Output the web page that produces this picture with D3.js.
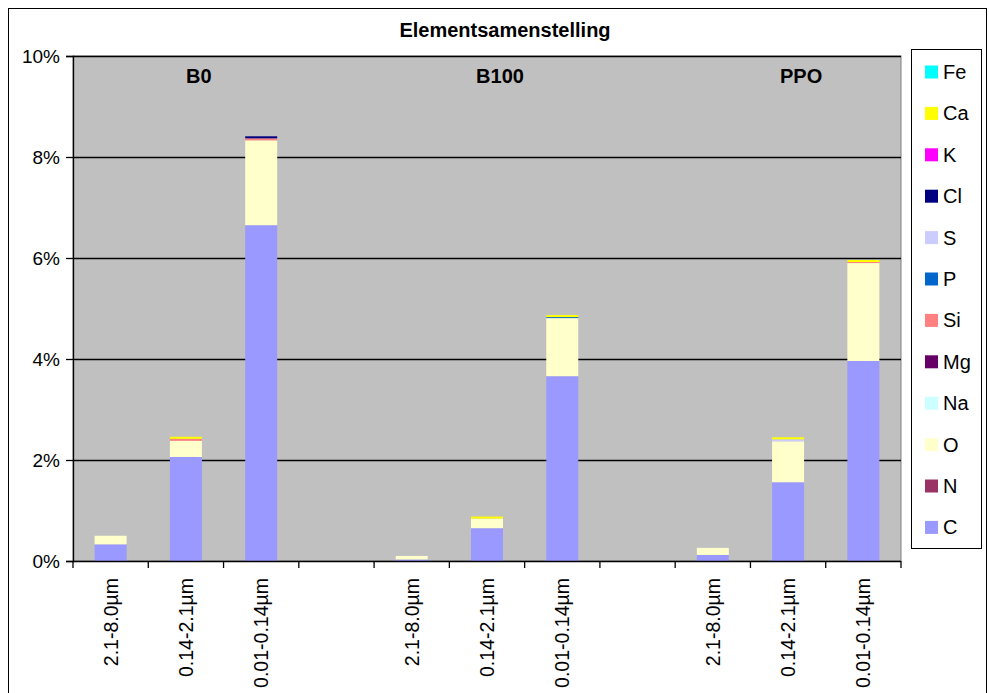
<!DOCTYPE html>
<html>
<head>
<meta charset="utf-8">
<script src="https://cdn.jsdelivr.net/npm/d3@7"></script>
<style>
  html, body { margin: 0; padding: 0; background: #fff; }
  svg { display: block; font-family: Arial, "Liberation Sans", sans-serif; }
</style>
</head>
<body>
<svg id="chart" width="989" height="693"></svg>
<script>
// Size fractions per sample, with empty spacer slots between the groups
const categories = ["2.1-8.0µm", "0.14-2.1µm", "0.01-0.14µm", "",
                    "2.1-8.0µm", "0.14-2.1µm", "0.01-0.14µm", "",
                    "2.1-8.0µm", "0.14-2.1µm", "0.01-0.14µm"];
const groupLabels = ["B0", "B100", "PPO"];
const groupCenterIndex = [1, 5, 9];

// Elements, stacked from the bottom up
const elements = ["C", "N", "O", "Na", "Mg", "Si", "P", "S", "Cl", "K", "Ca", "Fe"];
const elementColors = ["#9999FF", "#993366", "#FFFFCC", "#CCFFFF", "#660066", "#FF8080",
                       "#0066CC", "#CCCCFF", "#000080", "#FF00FF", "#FFFF00", "#00FFFF"];

// Mass fractions (%) per element, one value per category slot
const C  = [0.33, 2.06, 6.65, 0, 0.03, 0.65, 3.66, 0, 0.12, 1.56, 3.96];
const N  = [0, 0, 0, 0, 0, 0, 0, 0, 0, 0, 0];
const O  = [0.17, 0.32, 1.68, 0, 0.07, 0.19, 1.15, 0, 0.14, 0.81, 1.94];
const Na = [0, 0, 0, 0, 0, 0, 0, 0, 0, 0, 0];
const Mg = [0, 0, 0, 0, 0, 0, 0, 0, 0, 0, 0];
const Si = [0, 0.04, 0.04, 0, 0, 0, 0, 0, 0, 0, 0.02];
const P  = [0, 0, 0, 0, 0, 0, 0.02, 0, 0, 0, 0];
const S  = [0, 0, 0, 0, 0, 0, 0, 0, 0, 0.04, 0];
const Cl = [0, 0, 0.04, 0, 0, 0, 0, 0, 0, 0, 0];
const K  = [0, 0, 0, 0, 0, 0, 0, 0, 0, 0, 0];
const Ca = [0, 0.04, 0, 0, 0, 0.04, 0.04, 0, 0, 0.04, 0.04];
const Fe = [0, 0, 0, 0, 0, 0, 0, 0, 0, 0, 0];

const yTicks = [0, 0.02, 0.04, 0.06, 0.08, 0.10];

const series = { C, N, O, Na, Mg, Si, P, S, Cl, K, Ca, Fe };
const rows = categories.map((c, i) => {
  const r = { idx: i };
  elements.forEach(e => { r[e] = series[e][i] / 100; });
  return r;
});

const svg = d3.select("#chart");
const W = 989, H = 693;
const plot = { left: 73, right: 901, top: 56, bottom: 561 };

// outer chart frame
svg.append("rect")
  .attr("x", 8.5).attr("y", 8.5)
  .attr("width", W - 11).attr("height", H + 10)
  .attr("fill", "#fff").attr("stroke", "#000").attr("stroke-width", 1);

const x = d3.scaleBand()
  .domain(categories.map((c, i) => i))
  .range([plot.left, plot.right])
  .paddingInner(0).paddingOuter(0);

const y = d3.scaleLinear().domain([0, 0.10]).range([plot.bottom, plot.top]);

// plot area
svg.append("rect")
  .attr("x", plot.left).attr("y", plot.top)
  .attr("width", plot.right - plot.left).attr("height", plot.bottom - plot.top)
  .attr("fill", "#C0C0C0").attr("stroke", "#808080").attr("stroke-width", 1);

// gridlines
svg.append("g")
  .selectAll("line")
  .data(yTicks.filter(t => t > 0))
  .join("line")
  .attr("x1", plot.left).attr("x2", plot.right)
  .attr("y1", d => Math.round(y(d)) + 0.5).attr("y2", d => Math.round(y(d)) + 0.5)
  .attr("stroke", "#000").attr("stroke-width", 1.3);

// stacked bars
const stack = d3.stack().keys(elements);
const layers = stack(rows);
const barW = 32;
svg.append("g")
  .selectAll("g")
  .data(layers)
  .join("g")
  .attr("fill", (d, i) => elementColors[i])
  .selectAll("rect")
  .data(d => d.filter(p => p[1] - p[0] > 0))
  .join("rect")
  .attr("x", d => x(d.data.idx) + x.bandwidth() / 2 - barW / 2)
  .attr("width", barW)
  .attr("y", d => y(d[1]))
  .attr("height", d => y(d[0]) - y(d[1]));

// y axis
const yAxis = svg.append("g")
  .attr("transform", `translate(${plot.left},0)`)
  .call(d3.axisLeft(y).tickValues(yTicks).tickFormat(d3.format(".0%")).tickSize(7).tickPadding(6));
yAxis.select(".domain").attr("stroke", "#000").attr("stroke-width", 1.3);
yAxis.selectAll(".tick line").attr("stroke", "#000").attr("stroke-width", 1.3);
yAxis.selectAll("text").attr("font-size", 19).attr("fill", "#000")
  .style("font-family", "Arial, 'Liberation Sans', sans-serif");

// x axis: ticks on category boundaries
const xAxisG = svg.append("g");
xAxisG.append("line")
  .attr("x1", plot.left).attr("x2", plot.right)
  .attr("y1", plot.bottom + 0.5).attr("y2", plot.bottom + 0.5)
  .attr("stroke", "#000").attr("stroke-width", 1.3);
xAxisG.selectAll("line.tk")
  .data(d3.range(categories.length + 1))
  .join("line")
  .attr("class", "tk")
  .attr("x1", i => i < categories.length ? x(i) : plot.right)
  .attr("x2", i => i < categories.length ? x(i) : plot.right)
  .attr("y1", plot.bottom).attr("y2", plot.bottom + 7)
  .attr("stroke", "#000").attr("stroke-width", 1.3);
xAxisG.selectAll("text")
  .data(categories.map((c, i) => ({ c, i })).filter(d => d.c !== ""))
  .join("text")
  .attr("transform", d => `translate(${x(d.i) + x.bandwidth() / 2 + 7},${plot.bottom + 17}) rotate(-90)`)
  .attr("text-anchor", "end")
  .attr("font-size", 19.5)
  .attr("fill", "#000")
  .text(d => d.c);

// group labels
svg.append("g")
  .selectAll("text")
  .data(groupLabels)
  .join("text")
  .attr("x", (d, i) => x(groupCenterIndex[i]) + x.bandwidth() / 2 + 13)
  .attr("y", 83)
  .attr("text-anchor", "middle")
  .attr("font-size", 20).attr("font-weight", "bold")
  .text(d => d);

// title
svg.append("text")
  .attr("x", 505).attr("y", 37)
  .attr("text-anchor", "middle")
  .attr("font-size", 20).attr("font-weight", "bold")
  .text("Elementsamenstelling");

// legend, top entry is the last element
const lg = svg.append("g");
lg.append("rect")
  .attr("x", 911.5).attr("y", 49.5).attr("width", 70).attr("height", 499)
  .attr("fill", "#fff").attr("stroke", "#000").attr("stroke-width", 1);
const legendItems = elements.map((e, i) => ({ e, color: elementColors[i] })).reverse();
const li = lg.selectAll("g.item")
  .data(legendItems)
  .join("g")
  .attr("class", "item")
  .attr("transform", (d, i) => `translate(925,${72 + i * 41.4})`);
li.append("rect")
  .attr("x", 0).attr("y", -6.5).attr("width", 13).attr("height", 13)
  .attr("fill", d => d.color);
li.append("text")
  .attr("x", 18).attr("y", 7)
  .attr("font-size", 20)
  .text(d => d.e);
</script>
</body>
</html>
